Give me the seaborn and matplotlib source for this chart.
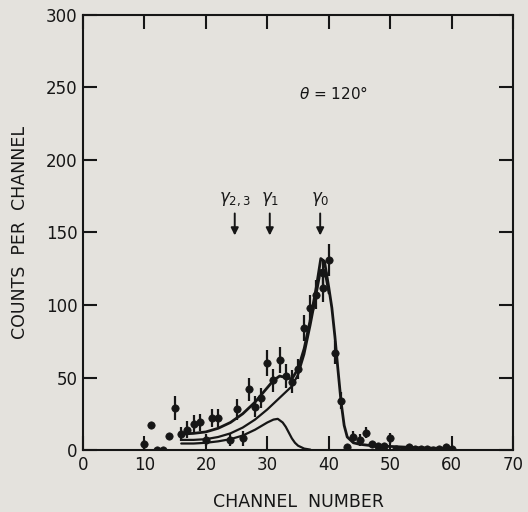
import matplotlib
matplotlib.use("Agg")
import matplotlib.pyplot as plt
import pandas as pd
import seaborn as sns

# measured spectrum, theta = 120 deg
channel = [10, 11, 12, 13, 14, 15, 16, 17, 18, 19, 20, 21, 22, 24, 25, 26, 27, 28, 29, 30,
           31, 32, 33, 34, 35, 36, 37, 38, 39, 39, 40, 41, 42, 43, 44, 45, 46, 47, 48, 49,
           50, 51, 52, 53, 54, 55, 56, 57, 58, 59, 60]
counts = [4, 17, 0, 0, 10, 29, 11, 14, 18, 19, 7, 22, 22, 7, 28, 8, 42, 30, 36, 60,
          48, 62, 51, 47, 56, 84, 98, 107, 112, 122, 131, 67, 34, 2, 9, 7, 12, 4, 3, 3,
          8, 1, 0, 2, 1, 1, 1, 0, 1, 2, 1]
errors = [3, 0, 0, 0, 0, 8, 5, 6, 6, 6, 4, 6, 6, 4, 7, 5, 8, 7, 7, 9,
          8, 9, 8, 8, 7, 9, 9, 10, 10, 10, 11, 8, 6, 0, 4, 4, 4, 2, 2, 2,
          4, 0, 0, 0, 0, 0, 0, 0, 0, 2, 0]

# fitted line shapes
fit_x = [16, 18, 20, 22, 24, 26, 28, 29, 30, 31, 32, 33, 34, 35, 36, 37, 38, 38.7,
         39.3, 40, 40.5, 41, 41.5, 42, 42.5, 43, 44, 45, 47, 50, 55, 60]
fit_total = [11, 11.5, 12.5, 15, 19, 25, 33, 38, 43, 48, 51, 50, 49, 56, 70, 90, 113, 132,
             130, 112, 98, 78, 55, 33, 17, 9, 5, 4, 3, 2.5, 1.5, 1]
gam0_x = [16, 18, 20, 22, 24, 26, 28, 30, 31, 32, 33, 34, 35, 36, 37, 38, 38.7, 39.3, 40]
gam0_y = [7, 7, 7.5, 9, 11.5, 15.5, 21, 28, 32, 36, 40, 44, 52, 66, 86, 108, 124, 124, 108]
gam1_x = [16, 18, 20, 22, 24, 26, 28, 30, 31, 31.7, 32.5, 33, 33.5, 34, 34.5, 35, 36, 37]
gam1_y = [4.5, 4.5, 5, 6, 7.5, 10, 14, 19, 21, 21.5, 19, 16, 12, 8, 5, 3, 1, 0.3]

arrow_x = [24.7, 30.4, 38.6]
arrow_lab = [r'$\gamma_{2,3}$', r'$\gamma_1$', r'$\gamma_0$']

x_ticks = [0, 10, 20, 30, 40, 50, 60, 70]
y_ticks = [0, 50, 100, 150, 200, 250, 300]

ink = '#161616'
paper = '#e4e2dd'

sns.set_style('ticks')
plt.rcParams['font.family'] = ['DejaVu Sans']
plt.rcParams['mathtext.fontset'] = 'dejavusans'

fig = plt.figure(figsize=(5.28, 5.12), dpi=100, facecolor=paper)
ax = fig.add_axes([0.157, 0.121, 0.815, 0.850])
ax.set_facecolor(paper)

data = pd.DataFrame({'channel': channel, 'counts': counts, 'err': errors})
ax.errorbar(data['channel'], data['counts'], yerr=data['err'], fmt='none',
            ecolor=ink, elinewidth=1.6, capsize=0)
sns.scatterplot(data=data, x='channel', y='counts', ax=ax, color=ink, s=28,
                edgecolor=ink, linewidth=0.5, zorder=3)

fits = [(fit_x, fit_total, 2.0), (gam0_x, gam0_y, 1.6), (gam1_x, gam1_y, 1.6)]
for xs, ys, lw in fits:
    sns.lineplot(x=xs, y=ys, ax=ax, color=ink, lw=lw, sort=False, estimator=None)

for xa, lab in zip(arrow_x, arrow_lab):
    ax.annotate('', xy=(xa, 146), xytext=(xa, 165),
                arrowprops=dict(arrowstyle='-|>', color=ink, lw=1.4, mutation_scale=11))
    ax.text(xa, 167, lab, ha='center', va='bottom', fontsize=12, color=ink)

ax.text(35.2, 246, r'$\theta$ = 120°', ha='left', va='center', fontsize=11, color=ink)

ax.set_xlim(0, 70)
ax.set_ylim(0, 300)
ax.set_xticks(x_ticks)
ax.set_yticks(y_ticks)
ax.tick_params(direction='in', length=10, width=1.5, colors=ink, labelsize=12,
               top=True, right=True, pad=4)
for s in ax.spines.values():
    s.set_color(ink)
    s.set_linewidth(1.5)

ax.set_xlabel('CHANNEL  NUMBER', fontsize=12.5, color=ink, labelpad=14)
ax.set_ylabel('COUNTS  PER  CHANNEL', fontsize=12.5, color=ink, labelpad=12)

fig.savefig('out.png', dpi=100, facecolor=paper)
